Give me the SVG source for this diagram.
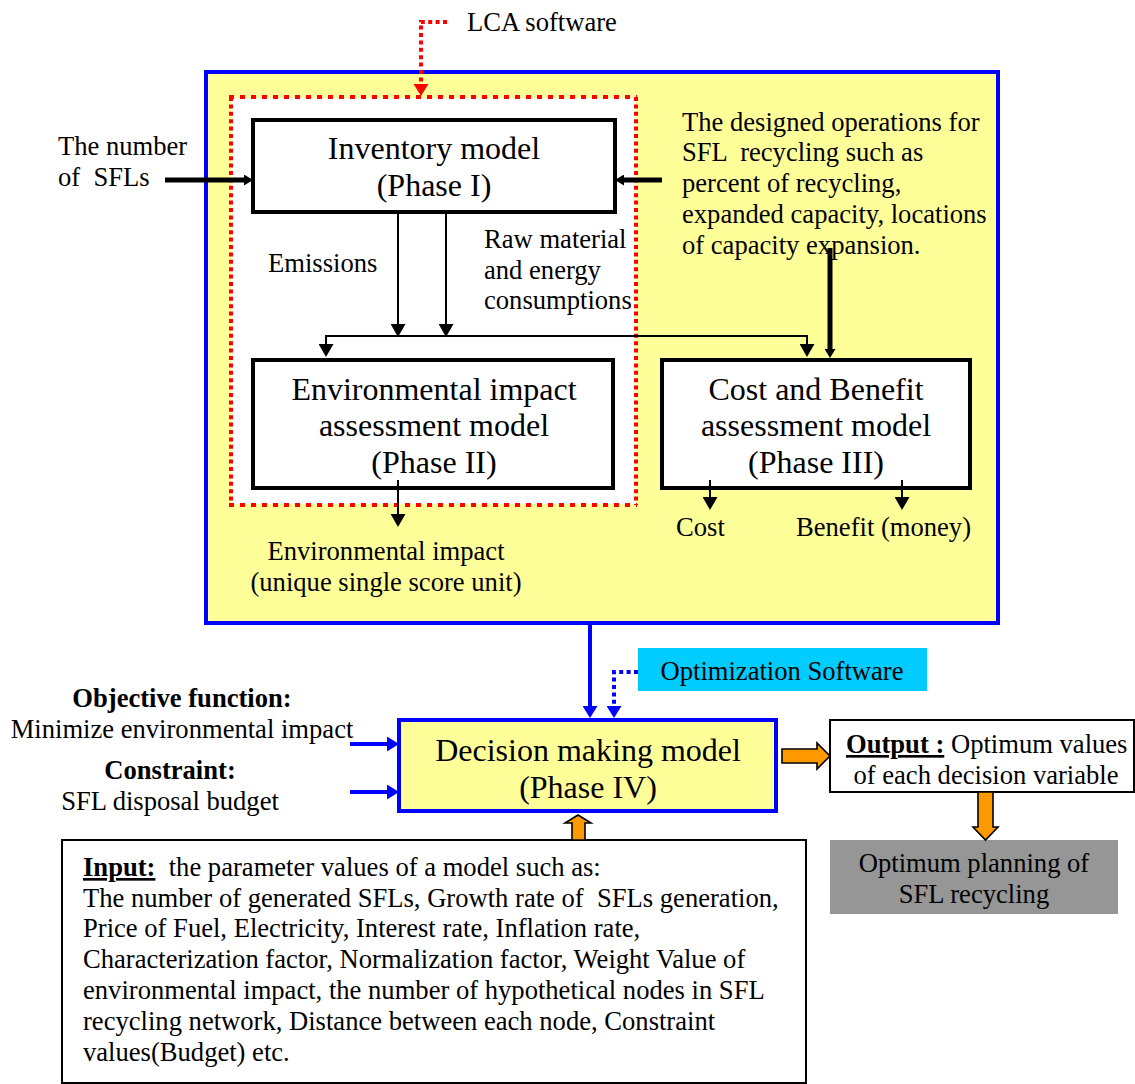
<svg xmlns="http://www.w3.org/2000/svg" width="1135" height="1084" viewBox="0 0 1135 1084">
  <style>
    text { font-family: "Liberation Serif", "Times New Roman", serif; fill: #000; white-space: pre; }
    .t24 { font-size: 26.6px; }
    .t28 { font-size: 32px; }
    .mid { text-anchor: middle; }
    .bold { font-weight: bold; }
    .box { fill: #fff; stroke: #000; stroke-width: 4; }
    .thin { stroke: #000; stroke-width: 2; fill: none; }
    .thick { stroke: #000; stroke-width: 5; fill: none; }
    .blue { stroke: #0000ff; stroke-width: 4; fill: none; }
    .orange { fill: #ff9900; stroke: #000; stroke-width: 1.6; stroke-linejoin: miter; }
  </style>
  <defs>
    <marker id="ah" markerUnits="userSpaceOnUse" markerWidth="14" markerHeight="15" refX="0" refY="7.5" orient="auto">
      <path d="M0,0 L13,7.5 L0,15 z" fill="#000"/>
    </marker>
    <marker id="ahk" markerUnits="userSpaceOnUse" markerWidth="10" markerHeight="11" refX="0" refY="5.5" orient="auto">
      <path d="M0,0 L9,5.5 L0,11 z" fill="#000"/>
    </marker>
    <marker id="ahb" markerUnits="userSpaceOnUse" markerWidth="13" markerHeight="15" refX="0" refY="7.5" orient="auto">
      <path d="M0,0 L12,7.5 L0,15 z" fill="#0000ff"/>
    </marker>
    <marker id="ahr" markerUnits="userSpaceOnUse" markerWidth="13" markerHeight="15" refX="0" refY="7.5" orient="auto">
      <path d="M0,0 L12,7.5 L0,15 z" fill="#ff0000"/>
    </marker>
  </defs>

  <rect width="1135" height="1084" fill="#fff"/>

  <!-- LCA framework container -->
  <g id="lca-frame">
    <rect x="206" y="72" width="792" height="551" fill="#ffff99" stroke="#0000ff" stroke-width="4"/>
  </g>

  <!-- LCA software scope (dotted) -->
  <g id="lca-scope">
    <rect x="231" y="98" width="405" height="406" fill="#fff"/>
    <g stroke="#ff0000" stroke-width="4" fill="none">
      <line x1="229" y1="97" x2="637" y2="97" stroke-dasharray="5 6"/>
      <line x1="229" y1="505" x2="637" y2="505" stroke-dasharray="5 6"/>
      <line x1="231" y1="97" x2="231" y2="505" stroke-dasharray="4 3.4"/>
      <line x1="636" y1="97" x2="636" y2="505" stroke-dasharray="4 3.4"/>
    </g>
  </g>

  <g id="lca-software-label">
    <text class="t24" x="467" y="31">LCA software</text>
  </g>

  <g id="inventory">
    <rect class="box" x="253" y="120" width="362" height="92"/>
    <text class="t28 mid" x="434" y="159">Inventory model</text>
    <text class="t28 mid" x="434" y="196">(Phase I)</text>
  </g>

  <g id="env-assessment">
    <rect class="box" x="253" y="360" width="360" height="128"/>
    <text class="t28 mid" x="434" y="400">Environmental impact</text>
    <text class="t28 mid" x="434" y="436">assessment model</text>
    <text class="t28 mid" x="434" y="473">(Phase II)</text>
  </g>

  <g id="cost-benefit">
    <rect class="box" x="662" y="360" width="308" height="128"/>
    <text class="t28 mid" x="816" y="400">Cost and Benefit</text>
    <text class="t28 mid" x="816" y="436">assessment model</text>
    <text class="t28 mid" x="816" y="473">(Phase III)</text>
  </g>

  <g id="sfl-number">
    <text class="t24" x="58" y="155">The number</text>
    <text class="t24" x="58" y="186">of  SFLs</text>
  </g>

  <g id="designed-operations">
    <text class="t24" x="682" y="131">The designed operations for</text>
    <text class="t24" x="682" y="161">SFL  recycling such as</text>
    <text class="t24" x="682" y="192">percent of recycling,</text>
    <text class="t24" x="682" y="223">expanded capacity, locations</text>
    <text class="t24" x="682" y="254">of capacity expansion.</text>
  </g>

  <g id="flow-labels">
    <text class="t24" x="268" y="272">Emissions</text>
    <text class="t24" x="484" y="248">Raw material</text>
    <text class="t24" x="484" y="279">and energy</text>
    <text class="t24" x="484" y="309">consumptions</text>
    <text class="t24" x="676" y="536">Cost</text>
    <text class="t24" x="796" y="536">Benefit (money)</text>
    <text class="t24 mid" x="386" y="560">Environmental impact</text>
    <text class="t24 mid" x="386" y="591">(unique single score unit)</text>
  </g>

  <g id="optimization-software">
    <rect x="638" y="648" width="289" height="43" fill="#00ccff"/>
    <text class="t24 mid" x="782" y="680">Optimization Software</text>
  </g>

  <g id="decision">
    <rect x="399" y="720" width="377" height="91" fill="#ffff99" stroke="#0000ff" stroke-width="4"/>
    <text class="t28 mid" x="588" y="761">Decision making model</text>
    <text class="t28 mid" x="588" y="798">(Phase IV)</text>
  </g>

  <g id="objective">
    <text class="t24 mid bold" x="182" y="707">Objective function:</text>
    <text class="t24 mid" x="182" y="738">Minimize environmental impact</text>
    <text class="t24 mid bold" x="170" y="779">Constraint:</text>
    <text class="t24 mid" x="170" y="810">SFL disposal budget</text>
  </g>

  <g id="output">
    <rect x="830" y="720" width="304" height="72" fill="#fff" stroke="#000" stroke-width="2"/>
    <text class="t24" x="846" y="753"><tspan class="bold" text-decoration="underline">Output :</tspan> Optimum values</text>
    <text class="t24 mid" x="986" y="784">of each decision variable</text>
  </g>

  <g id="planning">
    <rect x="830" y="840" width="288" height="74" fill="#969696"/>
    <text class="t24 mid" x="974" y="872">Optimum planning of</text>
    <text class="t24 mid" x="974" y="903">SFL recycling</text>
  </g>

  <g id="input">
    <rect x="62" y="840" width="744" height="243" fill="#fff" stroke="#000" stroke-width="2"/>
    <text class="t24" x="83" y="876"><tspan class="bold" text-decoration="underline">Input:</tspan>  the parameter values of a model such as:</text>
    <text class="t24" x="83" y="907">The number of generated SFLs, Growth rate of  SFLs generation,</text>
    <text class="t24" x="83" y="937">Price of Fuel, Electricity, Interest rate, Inflation rate,</text>
    <text class="t24" x="83" y="968">Characterization factor, Normalization factor, Weight Value of</text>
    <text class="t24" x="83" y="999">environmental impact, the number of hypothetical nodes in SFL</text>
    <text class="t24" x="83" y="1030">recycling network, Distance between each node, Constraint</text>
    <text class="t24" x="83" y="1061">values(Budget) etc.</text>
  </g>

  <!-- connectors -->
  <g id="connectors">
    <!-- LCA software link -->
    <path d="M447,22 H421 V84" stroke="#ff0000" stroke-width="4" fill="none" stroke-dasharray="4 3.4" marker-end="url(#ahr)"/>

    <!-- inputs into inventory model -->
    <line class="thick" x1="165" y1="180" x2="244" y2="180" marker-end="url(#ahk)"/>
    <line class="thick" x1="662" y1="180" x2="624" y2="180" marker-end="url(#ahk)"/>
    <line class="thick" x1="830" y1="248" x2="830" y2="349" marker-end="url(#ahk)"/>

    <!-- inventory outputs -->
    <line class="thin" x1="398" y1="212" x2="398" y2="324" marker-end="url(#ah)"/>
    <line class="thin" x1="446" y1="212" x2="446" y2="324" marker-end="url(#ah)"/>
    <path class="thin" d="M326,344 V336 H807 V344" marker-end="url(#ah)"/>
    <line class="thin" x1="326" y1="337" x2="326" y2="344" marker-end="url(#ah)"/>

    <!-- assessment results -->
    <line class="thin" x1="398" y1="480" x2="398" y2="514" marker-end="url(#ah)"/>
    <line class="thin" x1="710" y1="480" x2="710" y2="497" marker-end="url(#ah)"/>
    <line class="thin" x1="902" y1="480" x2="902" y2="497" marker-end="url(#ah)"/>

    <!-- into decision model -->
    <line class="blue" x1="590" y1="624" x2="590" y2="706" marker-end="url(#ahb)"/>
    <path d="M638,672 H614 V706" stroke="#0000ff" stroke-width="4" fill="none" stroke-dasharray="4 3.4" marker-end="url(#ahb)"/>
    <line class="blue" x1="350" y1="744" x2="387" y2="744" marker-end="url(#ahb)"/>
    <line class="blue" x1="350" y1="792" x2="387" y2="792" marker-end="url(#ahb)"/>

    <!-- block arrows -->
    <polygon class="orange" points="782,749 817,749 817,743 830,756 817,769 817,763 782,763"/>
    <polygon class="orange" points="978,792 993,792 993,827 998,827 985.5,840 973,827 978,827"/>
    <polygon class="orange" points="572,840 585,840 585,823 591,823 578,815 565,823 572,823"/>
  </g>
</svg>
